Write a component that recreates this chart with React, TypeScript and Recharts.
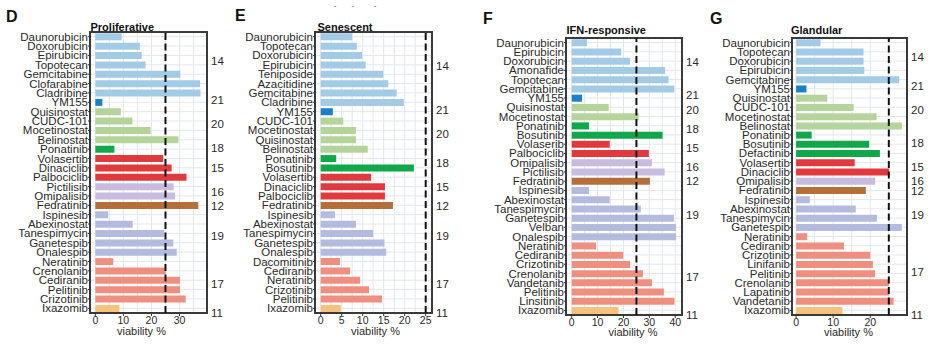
import React from 'react';
import { BarChart, Bar, XAxis, YAxis, CartesianGrid, ReferenceLine, ReferenceArea, Cell } from 'recharts';

// ---------- data ----------
const clusterColors: Record<string, string> = {
  '14': '#a3cbe6',
  '21': '#1c7fc8',
  '20': '#b4d49b',
  '18': '#10a84b',
  '15': '#e03a3e',
  '16': '#c8bddf',
  '12': '#b46f3a',
  '19': '#b5bbdf',
  '17': '#ef8f80',
  '11': '#f7c27c',
};

const drugsD = ['Daunorubicin', 'Doxorubicin', 'Epirubicin', 'Topotecan', 'Gemcitabine', 'Clofarabine', 'Cladribine', 'YM155', 'Quisinostat', 'CUDC-101', 'Mocetinostat', 'Belinostat', 'Ponatinib', 'Volasertib', 'Dinaciclib', 'Palbociclib', 'Pictilisib', 'Omipalisib', 'Fedratinib', 'Ispinesib', 'Abexinostat', 'Tanespimycin', 'Ganetespib', 'Onalespib', 'Neratinib', 'Crenolanib', 'Cediranib', 'Pelitinib', 'Crizotinib', 'Ixazomib'];
const viabilityD = [9.4, 15.9, 16.5, 17.9, 30.3, 37.3, 37.5, 2.5, 9.1, 13.2, 19.7, 29.6, 6.8, 24.2, 27.2, 32.5, 27.9, 28.4, 36.7, 4.6, 13.3, 24.5, 27.8, 29.0, 6.4, 25.1, 30.2, 30.2, 32.2, 8.6];
const clustersD = ['14', '14', '14', '14', '14', '14', '14', '21', '20', '20', '20', '20', '18', '15', '15', '15', '16', '16', '12', '19', '19', '19', '19', '19', '17', '17', '17', '17', '17', '11'];

const drugsE = ['Daunorubicin', 'Topotecan', 'Doxorubicin', 'Epirubicin', 'Teniposide', 'Azacitidine', 'Gemcitabine', 'Cladribine', 'YM155', 'CUDC-101', 'Mocetinostat', 'Quisinostat', 'Belinostat', 'Ponatinib', 'Bosutinib', 'Volasertib', 'Dinaciclib', 'Palbociclib', 'Fedratinib', 'Ispinesib', 'Abexinostat', 'Tanespimycin', 'Ganetespib', 'Onalespib', 'Dacomitinib', 'Cediranib', 'Neratinib', 'Crizotinib', 'Pelitinib', 'Ixazomib'];
const viabilityE = [7.5, 8.6, 9.9, 10.7, 14.9, 16.1, 18.1, 19.8, 2.9, 5.4, 8.4, 8.4, 11.2, 3.7, 22.2, 12.0, 15.3, 15.3, 17.2, 3.4, 8.4, 12.5, 15.2, 15.6, 4.6, 7.0, 9.4, 11.5, 14.6, 4.8];
const clustersE = ['14', '14', '14', '14', '14', '14', '14', '14', '21', '20', '20', '20', '20', '18', '18', '15', '15', '15', '12', '19', '19', '19', '19', '19', '17', '17', '17', '17', '17', '11'];

const drugsF = ['Daunorubicin', 'Epirubicin', 'Doxorubicin', 'Amonafide', 'Topotecan', 'Gemcitabine', 'YM155', 'Quisinostat', 'Mocetinostat', 'Ponatinib', 'Bosutinib', 'Volaserib', 'Palbociclib', 'Omipalisib', 'Pictilisib', 'Fedratinib', 'Ispinesib', 'Abexinostat', 'Tanespimycin', 'Ganetespib', 'Velban', 'Onalespib', 'Neratinib', 'Cediranib', 'Crizotinib', 'Crenolanib', 'Vandetanib', 'Pelitinib', 'Linsitinib', 'Ixazomib'];
const viabilityF = [5.9, 19.1, 22.5, 36.1, 37.4, 39.6, 4.0, 14.3, 25.9, 6.7, 35.1, 14.7, 29.8, 31.0, 35.9, 30.2, 6.7, 14.7, 26.7, 39.5, 40.3, 40.3, 9.4, 19.9, 22.6, 27.5, 31.0, 35.6, 39.7, 18.1];
const clustersF = ['14', '14', '14', '14', '14', '14', '21', '20', '20', '18', '18', '15', '15', '16', '16', '12', '19', '19', '19', '19', '19', '19', '17', '17', '17', '17', '17', '17', '17', '11'];

const drugsG = ['Daunorubicin', 'Topotecan', 'Doxorubicin', 'Epirubicin', 'Gemcitabine', 'YM155', 'Quisinostat', 'CUDC-101', 'Mocetinostat', 'Belinostat', 'Ponatinib', 'Bosutinib', 'Defactinib', 'Volasertib', 'Dinaciclib', 'Omipalisib', 'Fedratinib', 'Ispinesib', 'Abexinostat', 'Tanespimycin', 'Ganetespib', 'Neratinib', 'Cediranib', 'Crizotinib', 'Linifanib', 'Pelitinib', 'Crenolanib', 'Lapatinib', 'Vandetanib', 'Ixazomib'];
const viabilityG = [6.6, 18.2, 18.2, 18.4, 27.8, 2.8, 8.4, 15.5, 21.7, 28.5, 4.2, 19.7, 22.6, 15.8, 25.1, 21.3, 18.8, 3.7, 16.1, 21.8, 28.5, 3.0, 12.9, 20.0, 20.7, 21.3, 25.0, 25.1, 26.3, 12.5];
const clustersG = ['14', '14', '14', '14', '14', '21', '20', '20', '20', '20', '18', '18', '18', '15', '15', '16', '12', '19', '19', '19', '19', '17', '17', '17', '17', '17', '17', '17', '17', '11'];

const titles = ['Proliferative', 'Senescent', 'IFN-responsive', 'Glandular'];
const panelLetters = ['D', 'E', 'F', 'G'];
const thresholdViability = 25;
const gridTicksD = [0, 5, 10, 15, 20, 25, 30, 35];
const majorTicksD = [0, 10, 20, 30];
const gridTicksE = [0, 2.5, 5, 7.5, 10, 12.5, 15, 17.5, 20, 22.5, 25];
const majorTicksE = [0, 5, 10, 15, 20, 25];
const gridTicksF = [0, 5, 10, 15, 20, 25, 30, 35, 40];
const majorTicksF = [0, 10, 20, 30, 40];
const gridTicksG = [0, 5, 10, 15, 20, 25];
const majorTicksG = [0, 10, 20];

// ---------- layout ----------
const FONT = '"Liberation Sans", Arial, Helvetica, sans-serif';
const TEXT = '#2a2a2a';

type PanelCfg = {
  names: string[];
  values: number[];
  clusters: string[];
  domain: [number, number];
  gridTicks: number[];
  majors: number[];
  left: number;
  width: number;
  yWidth: number;
  top: number;
  bottom: number;
  labelOffset: number;
  labelDx: number;
};

const panels: PanelCfg[] = [
  { names: drugsD, values: viabilityD, clusters: clustersD, domain: [-1.9, 39.8], gridTicks: gridTicksD, majors: majorTicksD, left: 0, width: 232, yWidth: 90, top: 32, bottom: 7, labelOffset: 8.5, labelDx: -7 },
  { names: drugsE, values: viabilityE, clusters: clustersE, domain: [-1.35, 26.5], gridTicks: gridTicksE, majors: majorTicksE, left: 225, width: 232, yWidth: 90, top: 32, bottom: 7, labelOffset: 8.5, labelDx: 2 },
  { names: drugsF, values: viabilityF, clusters: clustersF, domain: [-2.2, 42.6], gridTicks: gridTicksF, majors: majorTicksF, left: 455, width: 252, yWidth: 111, top: 38, bottom: 5, labelOffset: 9.5, labelDx: 9 },
  { names: drugsG, values: viabilityG, clusters: clustersG, domain: [-1.1, 29.9], gridTicks: gridTicksG, majors: majorTicksG, left: 690, width: 242, yWidth: 102, top: 38, bottom: 5, labelOffset: 9.5, labelDx: -1 },
];

function clusterGroups(clusters: string[]) {
  const groups: { label: string; pos: number }[] = [];
  let start = 0;
  for (let i = 1; i <= clusters.length; i++) {
    if (i === clusters.length || clusters[i] !== clusters[start]) {
      groups.push({ label: clusters[start], pos: (start + i - 1) / 2 });
      start = i;
    }
  }
  return groups;
}

const XTick = (props: any) => {
  const { x, y, payload, majors } = props;
  if (!majors.includes(payload.value)) return null;
  return (
    <g>
      <line x1={x} x2={x} y1={y - 4} y2={y - 1} stroke="#333" strokeWidth={1} />
      <text x={x} y={y} dy="0.71em" textAnchor="middle" fill={TEXT} fontSize={10.5} fontFamily={FONT}>
        {payload.value}
      </text>
    </g>
  );
};

function Panel({ cfg }: { cfg: PanelCfg }) {
  const data = cfg.names.map((name, i) => ({ name, value: cfg.values[i], cluster: cfg.clusters[i] }));
  const groups = clusterGroups(cfg.clusters);
  const labelByPos = new Map(groups.map((g) => [g.pos, g.label]));
  const n = data.length;
  return (
    <div style={{ position: 'absolute', left: cfg.left, top: 0 }}>
      <BarChart
        width={cfg.width}
        height={350}
        data={data}
        layout="vertical"
        margin={{ top: cfg.top, right: 0, bottom: cfg.bottom, left: 0 }}
        barCategoryGap="14%"
      >
        <CartesianGrid stroke="#e4e7ee" strokeWidth={1} />
        <XAxis
          type="number"
          domain={cfg.domain}
          allowDataOverflow
          ticks={cfg.gridTicks}
          interval={0}
          axisLine={false}
          tickLine={false}
          tickSize={3}
          tickMargin={1}
          height={30}
          tick={<XTick majors={cfg.majors} />}
          label={{ value: 'viability %', position: 'insideBottom', offset: cfg.labelOffset, dx: cfg.labelDx, fill: TEXT, fontSize: 11 }}
        />
        <YAxis
          type="category"
          dataKey="name"
          width={cfg.yWidth}
          interval={0}
          axisLine={false}
          tickSize={2}
          tickMargin={0}
          tickLine={{ stroke: '#333' }}
          tick={{ fill: TEXT, fontSize: 11.5 }}
        />
        <YAxis
          yAxisId="right"
          orientation="right"
          type="number"
          domain={[-0.5, n - 0.5]}
          allowDataOverflow
          ticks={groups.map((g) => g.pos)}
          interval={0}
          tickFormatter={(v: number) => labelByPos.get(v) ?? ''}
          width={25}
          axisLine={false}
          tickLine={false}
          tickSize={0}
          tickMargin={4}
          tick={{ fill: TEXT, fontSize: 11.5 }}
        />
        <Bar dataKey="value" isAnimationActive={false}>
          {data.map((d, i) => (
            <Cell key={i} fill={clusterColors[d.cluster]} />
          ))}
        </Bar>
        <ReferenceLine x={thresholdViability} stroke="#111" strokeWidth={2} strokeDasharray="7 3.5" />
        <ReferenceArea x1={cfg.domain[0]} x2={cfg.domain[1]} fill="none" fillOpacity={0} stroke="#3a3a3a" strokeWidth={2} />
      </BarChart>
    </div>
  );
}

const letterPos = [
  { x: 6, y: 22 },
  { x: 235, y: 21 },
  { x: 483, y: 23.5 },
  { x: 710, y: 24 },
];
const titlePos = [
  { x: 90.5, y: 30.5 },
  { x: 317.5, y: 30.5 },
  { x: 566.5, y: 33.5 },
  { x: 791, y: 34 },
];

export default function App() {
  return (
    <div style={{ position: 'absolute', left: 0, top: 0, width: 932, height: 350, background: '#fff', fontFamily: FONT, overflow: 'hidden' }}>
      {panels.map((p, i) => (
        <Panel key={i} cfg={p} />
      ))}
      <svg width={932} height={350} style={{ position: 'absolute', left: 0, top: 0, pointerEvents: 'none' }}>
        {panelLetters.map((l, i) => (
          <text key={'l' + i} x={letterPos[i].x} y={letterPos[i].y} fontSize={16} fontWeight="bold" fill="#111" fontFamily={FONT}>
            {l}
          </text>
        ))}
        {titles.map((t, i) => (
          <text key={'t' + i} x={titlePos[i].x} y={titlePos[i].y} fontSize={11} fontWeight="bold" fill="#111" fontFamily={FONT}>
            {t}
          </text>
        ))}
        {[335, 353, 375].map((x, i) => (
          <text key={'d' + i} x={x} y={9} fontSize={9} fill="#777" fontFamily={FONT} textAnchor="middle">
            -
          </text>
        ))}
      </svg>
    </div>
  );
}
